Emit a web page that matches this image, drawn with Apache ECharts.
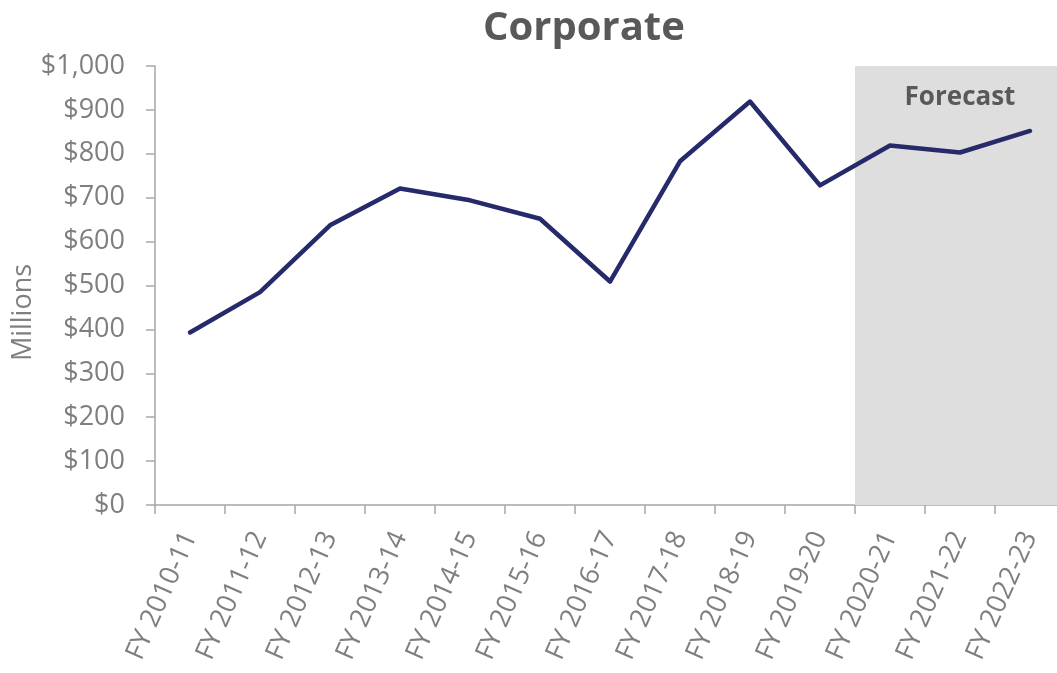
<!DOCTYPE html>
<html>
<head>
<meta charset="utf-8">
<script src="https://cdn.jsdelivr.net/npm/echarts@6/dist/echarts.min.js"></script>
<style>
html,body{margin:0;padding:0;background:#fff;}
#chart{width:1057px;height:673px;}
</style>
</head>
<body>
<div id="chart"></div>
<script>
const categories = ['FY 2010-11','FY 2011-12','FY 2012-13','FY 2013-14','FY 2014-15','FY 2015-16','FY 2016-17','FY 2017-18','FY 2018-19','FY 2019-20','FY 2020-21','FY 2021-22','FY 2022-23'];
const corporate = [393, 485, 637, 721, 694, 652, 509, 783, 919, 728, 819, 803, 852];
const forecastFlags = [0,0,0,0,0,0,0,0,0,0,1,1,1];
const forecastLabelIndex = 11;
const yMax = 1000;
const forecastBand = forecastFlags.map(f => f ? yMax : null);

const chart = echarts.init(document.getElementById('chart'));
const grey = '#A6A6A6';
const textGrey = '#7F7F7F';
chart.setOption({
  animation: false,
  title: {
    text: 'Corporate', left: 478, top: 4,
    textStyle: { fontFamily: 'Open Sans', fontWeight: 'bold', fontSize: 40, color: '#595959' }
  },
  grid: { left: 155, right: -8, top: 66, bottom: 168, containLabel: false, outerBoundsMode: 'none' },
  xAxis: {
    type: 'category', data: categories, boundaryGap: true,
    axisLine: { lineStyle: { color: grey, width: 1.5 } },
    axisTick: { show: true, length: 9, lineStyle: { color: grey, width: 1.5 } },
    axisLabel: { rotate: 66, margin: 28, fontFamily: 'Open Sans', fontSize: 27, color: textGrey, interval: 0, hideOverlap: false },
    splitLine: { show: false }
  },
  yAxis: {
    type: 'value', min: 0, max: yMax, interval: 100,
    name: 'Millions', nameLocation: 'middle', nameGap: 118, nameMoveOverlap: false,
    nameTextStyle: { fontFamily: 'Open Sans', fontSize: 27, color: textGrey, padding: [0, 54, 0, 0] },
    axisLine: { show: true, lineStyle: { color: grey, width: 1.5 } },
    axisTick: { show: true, length: 9, lineStyle: { color: grey, width: 1.5 } },
    axisLabel: {
      margin: 30, fontFamily: 'Open Sans', fontSize: 27, color: textGrey,
      formatter: v => '$' + v.toLocaleString('en-US')
    },
    splitLine: { show: false }
  },
  series: [
    {
      type: 'bar', data: forecastBand, barWidth: '100%', silent: true,
      itemStyle: { color: '#DEDEDE' }, z: 1,
      label: {
        show: true, position: 'insideTop', distance: 19,
        formatter: p => p.dataIndex === forecastLabelIndex ? 'Forecast' : '',
        fontFamily: 'Open Sans', fontWeight: 'bold', fontSize: 26, color: '#595959'
      }
    },
    {
      type: 'line', data: corporate, symbol: 'none', z: 5,
      lineStyle: { color: '#262A6A', width: 4.5, cap: 'round', join: 'round' }
    }
  ]
});
</script>
</body>
</html>
